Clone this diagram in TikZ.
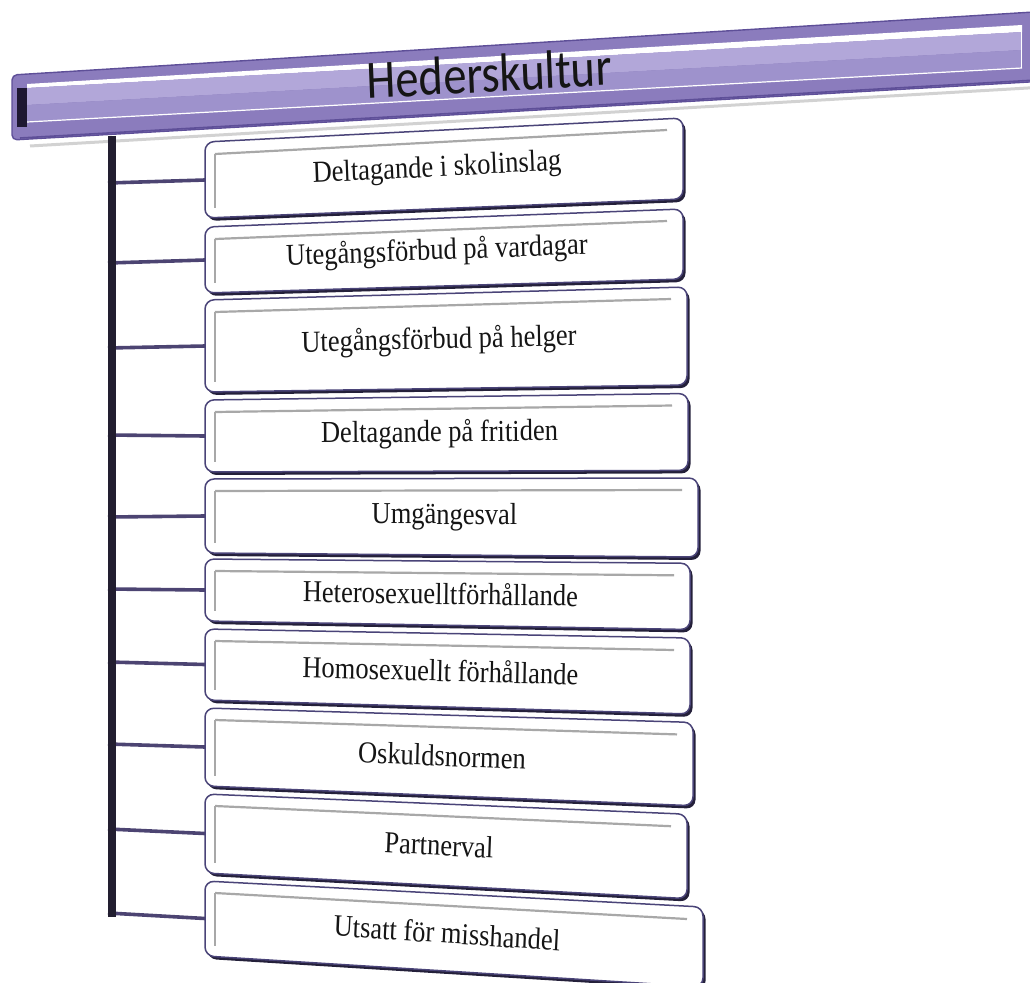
\documentclass[tikz,border=0pt]{standalone}
\usepackage{fontspec}
\setmainfont{Liberation Serif}
\newfontfamily\titlefont{Carlito}
\usetikzlibrary{calc}
\definecolor{barmid}{HTML}{8B7CBD}
\definecolor{baredge}{HTML}{5E4F98}
\definecolor{barlight}{HTML}{B2A7D9}
\definecolor{barlow}{HTML}{9E92CC}
\definecolor{barstripe}{HTML}{1E1832}
\definecolor{trunkcol}{HTML}{221E30}
\definecolor{linkcol}{HTML}{4C4472}
\definecolor{boxedge}{HTML}{4A4478}
\definecolor{boxshade}{HTML}{24203A}
\definecolor{bevelcol}{HTML}{A8A8A8}
\definecolor{inkcol}{HTML}{151515}
\tikzset{
  boxtext/.style={font=\fontsize{26.5}{30}\selectfont, text=inkcol, inner sep=0pt, yscale=1.15},
  link/.style={draw=linkcol, line width=3.6pt},
  trunk/.style={draw=trunkcol, line width=8pt},
  bevel/.style={draw=bevelcol, line width=2.2pt},
  boxshape/.style={fill=white, draw=boxedge, line width=1.5pt, rounded corners=9pt},
  boxshadow/.style={fill=boxshade, rounded corners=9pt},
}
\newcommand\slantbox[9]{%
  \coordinate (#1tl) at (205,#2);
  \coordinate (#1bl) at (205,#3);
  \coordinate (#1tr) at (#4,#5);
  \coordinate (#1br) at (#4,#6);
  \coordinate (#1w) at ($(#1tl)!.5!(#1bl)$);
  \coordinate (#1e) at ($(#1tr)!.5!(#1br)$);
  \coordinate (t#1) at (108,#9);
  \draw[link] (t#1) -- (#1w);
  \fill[boxshadow] ($(#1tl)+(2.5,3)$) -- ($(#1tr)+(2.5,3)$) -- ($(#1br)+(2.5,3)$) -- ($(#1bl)+(2.5,3)$) -- cycle;
  \path[boxshape] (#1tl) -- (#1tr) -- (#1br) -- (#1bl) -- cycle;
  \draw[bevel] ($(#1tl)+(10,12)$) -- ($(#1tr)+(-16,12)$);
  \draw[bevel] ($(#1tl)+(10,12)$) -- ($(#1bl)+(10,-10)$);
  \node[boxtext, rotate=#7] (#1) at ($(#1w)!.5!(#1e)+(-7,0)$) {#8};
}
\begin{document}
\begin{tikzpicture}[x=1pt,y=-1pt]
\useasboundingbox (0,0) rectangle (1030,982);
% shadow below the bar
\draw[gray!35, line width=3pt] (30,146) -- (1045,87);
% boxes and their connectors
\slantbox{b1}{142}{218}{683}{118}{199}{2.57}{Deltagande i skolinslag}{183}
\slantbox{b2}{227}{293}{683}{209}{279}{1.91}{Utegångsförbud på vardagar}{263}
\slantbox{b3}{300}{392}{687}{287}{385}{1.2}{Utegångsförbud på helger}{348}
\slantbox{b4}{400}{472}{688}{393.5}{470.4}{0.48}{Deltagande på fritiden}{435}
\slantbox{b5}{479}{553}{698}{478}{557}{-0.16}{Umgängesval}{517}
\slantbox{b6}{559}{621}{690}{563.3}{629.5}{-0.76}{Heterosexuelltförhållande}{589}
\slantbox{b7}{629}{700}{690}{638}{714}{-1.35}{Homosexuellt förhållande}{662}
\slantbox{b8}{708}{786}{693}{722.4}{805.7}{-2.0}{Oskuldsnormen}{744}
\slantbox{b9}{794}{873}{687}{814.2}{898.6}{-2.72}{Partnerval}{829}
\slantbox{b10}{881}{956}{703}{907}{987}{-3.29}{Utsatt för misshandel}{913}
% trunk
\coordinate (ttop) at (112,136);
\coordinate (tbot) at (112,917);
\draw[trunk] (ttop) -- (tbot);
% title bar
\filldraw[fill=barmid, draw=baredge, line width=1.4pt, rounded corners=5pt]
  (12,75) -- (1045,11.3) -- (1045,81.1) -- (12,140) -- cycle;
\fill[white] (27,84) -- (1022,25) -- (1022,32) -- (27,88) -- cycle;
\fill[barlight] (27,88) -- (1022,32) -- (1022,50) -- (27,105) -- cycle;
\fill[barlow] (27,105) -- (1022,50) -- (1022,68) -- (27,122) -- cycle;
\draw[white, line width=1.2pt] (27,122) -- (1022,68);
\draw[baredge, line width=1.6pt] (20,138) -- (1045,79.5);
\draw[white, line width=1pt] (1021,30) -- (1021,68);
\fill[barstripe] (17,88) rectangle (27,127);
\node[font=\titlefont\fontsize{54}{60}\selectfont, text=inkcol, xscale=0.86, rotate=2.8, anchor=base] (title) at (490,92) {Hederskultur};
\end{tikzpicture}
\end{document}
